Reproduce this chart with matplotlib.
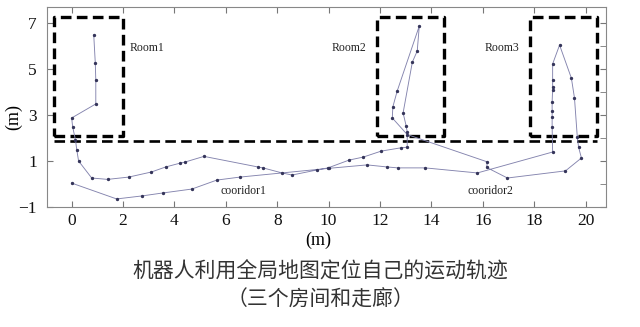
import matplotlib
matplotlib.use("Agg")
import matplotlib.pyplot as plt
from matplotlib.ticker import FixedLocator

# Trajectory (m): room1 -> upper corridor1 -> room2 -> room3 -> back along lower corridor
traj_x = [0.86, 0.92, 0.94, 0.94, 0.00, 0.04, 0.15, 0.20, 0.27, 0.78, 1.40, 2.22,
          3.10, 3.66, 4.20, 4.40, 5.15, 7.25, 7.45, 8.19, 8.58, 9.55, 9.98, 10.80,
          11.35, 12.05, 12.80, 13.06, 13.06, 13.02, 12.90, 13.26, 13.45, 13.53,
          12.67, 12.50, 12.48, 13.06, 16.18, 16.15, 16.96, 19.22, 19.84, 19.73,
          19.68, 19.57, 19.45, 18.99, 18.72, 18.72, 18.72, 18.72, 18.70, 18.70,
          18.70, 18.70, 18.72, 15.79, 13.76, 12.70, 12.28, 11.50, 10.00, 6.55,
          5.65, 4.68, 3.55, 2.73, 1.75, 0.00]
traj_y = [6.48, 5.26, 4.52, 3.48, 2.87, 2.48, 1.91, 1.48, 1.00, 0.26, 0.20, 0.30,
          0.52, 0.74, 0.90, 0.95, 1.20, 0.74, 0.70, 0.48, 0.39, 0.61, 0.70, 1.04,
          1.17, 1.43, 1.57, 1.60, 2.26, 2.52, 3.09, 5.30, 5.78, 6.87,
          4.04, 3.35, 2.87, 2.15, 0.96, 0.72, 0.26, 0.57, 1.13, 1.60,
          2.04, 3.74, 4.60, 6.04, 5.22, 4.52, 4.22, 4.10, 3.57, 3.17,
          2.90, 2.48, 1.39, 0.48, 0.70, 0.70, 0.74, 0.83, 0.68, 0.30,
          0.17, -0.22, -0.39, -0.52, -0.65, 0.04]

# Rooms: (x0, x1, y0, y1)
room_names = ["Room1", "Room2", "Room3"]
room_x0 = [-0.7, 11.9, 17.85]
room_x1 = [2.0, 14.5, 20.45]
room_y0 = [2.1, 2.1, 2.1]
room_y1 = [7.25, 7.25, 7.25]
room_label_xy = [(2.25, 5.9), (10.12, 5.9), (16.08, 5.9)]

wall_y = 1.87
wall_x = (-0.7, 20.45)

corridor_names = ["cooridor1", "cooridor2"]
corridor_xy = [(5.8, -0.3), (15.4, -0.3)]

xticks = list(range(0, 21, 2))
yticks = [-1, 1, 3, 5, 7]
yticks_minor = [0, 2, 4, 6]

SERIF = "Liberation Serif"
LINE_COLOR = "#8484ae"
DOT_COLOR = "#35355a"

fig = plt.figure(figsize=(6.4, 3.27), dpi=100, facecolor="white")
ax = fig.add_axes([0.073, 0.367, 0.874, 0.612])

ax.plot(traj_x, traj_y, color=LINE_COLOR, linewidth=0.65, marker="o",
        markersize=1.4, markerfacecolor=DOT_COLOR, markeredgecolor=DOT_COLOR,
        zorder=3)

for name, x0, x1, y0, y1, (lx, ly) in zip(room_names, room_x0, room_x1,
                                          room_y0, room_y1, room_label_xy):
    ax.plot([x0, x1, x1, x0, x0], [y0, y0, y1, y1, y0], color="black",
            linewidth=2.4, linestyle=(0, (3.2, 1.6)), zorder=2)
    ax.text(lx, ly, name, fontsize=8.5, family=SERIF, color="#222222",
            ha="left", va="center")

ax.plot(wall_x, [wall_y, wall_y], color="black", linewidth=1.9,
        linestyle=(0, (4, 2)), zorder=2)

for name, (cx, cy) in zip(corridor_names, corridor_xy):
    ax.text(cx, cy, name, fontsize=8.5, family=SERIF, color="#222222",
            ha="left", va="center")

ax.set_xlim(-0.97, 20.8)
ax.set_ylim(-1, 7.7)
ax.set_xticks(xticks)
ax.set_yticks(yticks)
ax.yaxis.set_minor_locator(FixedLocator(yticks_minor))
ax.tick_params(axis="both", which="major", direction="in", length=4,
               color="#777777", labelsize=12.5, top=True, right=True)
ax.tick_params(axis="x", pad=4)
ax.tick_params(axis="y", pad=7)
ax.tick_params(axis="y", which="minor", direction="in", length=4,
               color="#777777", left=False, right=True)
for lab in ax.get_xticklabels() + ax.get_yticklabels():
    lab.set_family(SERIF)
    lab.set_color("#111111")
for sp in ax.spines.values():
    sp.set_color("#888888")
    sp.set_linewidth(0.8)

ax.set_xlabel("(m)", family=SERIF, fontsize=13, labelpad=3)
ax.xaxis.set_label_coords(0.485, -0.125)
ax.text(-0.06, 0.45, "(m)", family=SERIF, fontsize=13, rotation=90,
        ha="center", va="center", transform=ax.transAxes)

cjk = ["Noto Sans CJK SC", "DejaVu Sans"]
fig.text(0.5, 0.168, "机器人利用全局地图定位自己的运动轨迹", family=cjk,
         fontsize=15, color="#333333", ha="center", va="center")
fig.text(0.5, 0.083, "（三个房间和走廊）", family=cjk,
         fontsize=15, color="#333333", ha="center", va="center")

fig.savefig("out.png", dpi=100, facecolor="white")
plt.close(fig)
